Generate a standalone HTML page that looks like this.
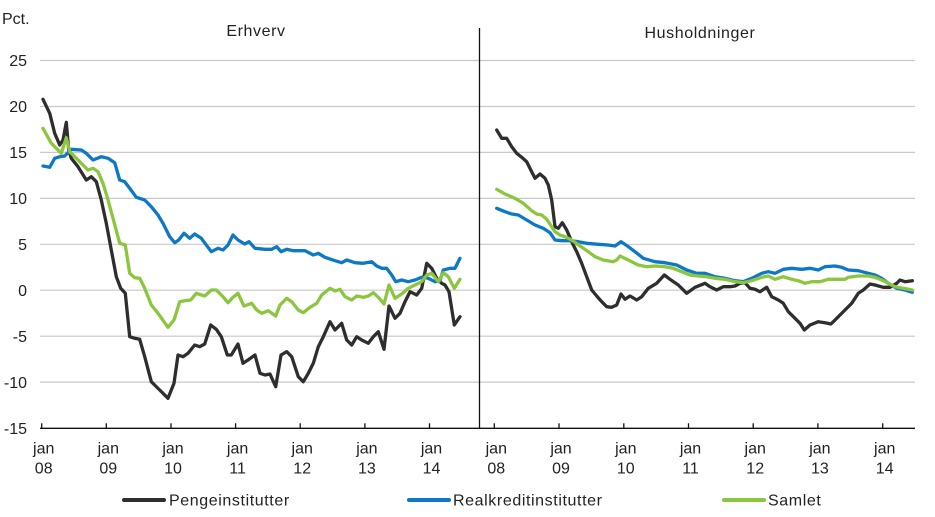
<!DOCTYPE html>
<html>
<head>
<meta charset="utf-8">
<style>
html,body{margin:0;padding:0;background:#fff;}
svg{display:block;}
text{font-family:"Liberation Sans",sans-serif;font-size:16px;fill:#222;}
.sp{letter-spacing:0.6px;}
</style>
</head>
<body>
<svg width="935" height="517" viewBox="0 0 935 517" xmlns="http://www.w3.org/2000/svg">
<rect width="935" height="517" fill="#fff"/>
<!-- gridlines -->
<g stroke="#c9c9c9" stroke-width="1.2">
<line x1="40" y1="60.5" x2="915" y2="60.5"/>
<line x1="40" y1="106.5" x2="915" y2="106.5"/>
<line x1="40" y1="152.4" x2="915" y2="152.4"/>
<line x1="40" y1="198.4" x2="915" y2="198.4"/>
<line x1="40" y1="244.3" x2="915" y2="244.3"/>
<line x1="40" y1="290.2" x2="915" y2="290.2"/>
<line x1="40" y1="336.2" x2="915" y2="336.2"/>
<line x1="40" y1="382.1" x2="915" y2="382.1"/>
</g>
<!-- axis -->
<g stroke="#111" stroke-width="1.3">
<line x1="40" y1="428.3" x2="915" y2="428.3"/>
<line x1="479.5" y1="28" x2="479.5" y2="428.3"/>
<line x1="41.7" y1="423.3" x2="41.7" y2="428.3"/>
<line x1="106.3" y1="423.3" x2="106.3" y2="428.3"/>
<line x1="171" y1="423.3" x2="171" y2="428.3"/>
<line x1="235.6" y1="423.3" x2="235.6" y2="428.3"/>
<line x1="300.2" y1="423.3" x2="300.2" y2="428.3"/>
<line x1="364.9" y1="423.3" x2="364.9" y2="428.3"/>
<line x1="429.5" y1="423.3" x2="429.5" y2="428.3"/>
<line x1="494.3" y1="423.3" x2="494.3" y2="428.3"/>
<line x1="559" y1="423.3" x2="559" y2="428.3"/>
<line x1="623.8" y1="423.3" x2="623.8" y2="428.3"/>
<line x1="688.5" y1="423.3" x2="688.5" y2="428.3"/>
<line x1="753.2" y1="423.3" x2="753.2" y2="428.3"/>
<line x1="817.9" y1="423.3" x2="817.9" y2="428.3"/>
<line x1="882.7" y1="423.3" x2="882.7" y2="428.3"/>
</g>
<!-- y labels -->
<g text-anchor="end">
<text x="27" y="66">25</text>
<text x="27" y="112">20</text>
<text x="27" y="158">15</text>
<text x="27" y="204">10</text>
<text x="27" y="250">5</text>
<text x="27" y="296">0</text>
<text x="27" y="342">-5</text>
<text x="27" y="388">-10</text>
<text x="27" y="434">-15</text>
</g>
<text x="2" y="24">Pct.</text>
<text class="sp" x="256" y="36" text-anchor="middle">Erhverv</text>
<text class="sp" x="700" y="38" text-anchor="middle">Husholdninger</text>
<!-- x labels -->
<g text-anchor="middle">
<text x="43.7" y="453.5">jan</text><text x="43.7" y="473.3">08</text>
<text x="108.3" y="453.5">jan</text><text x="108.3" y="473.3">09</text>
<text x="173" y="453.5">jan</text><text x="173" y="473.3">10</text>
<text x="237.6" y="453.5">jan</text><text x="237.6" y="473.3">11</text>
<text x="302.2" y="453.5">jan</text><text x="302.2" y="473.3">12</text>
<text x="366.9" y="453.5">jan</text><text x="366.9" y="473.3">13</text>
<text x="431.5" y="453.5">jan</text><text x="431.5" y="473.3">14</text>
<text x="496.3" y="453.5">jan</text><text x="496.3" y="473.3">08</text>
<text x="561" y="453.5">jan</text><text x="561" y="473.3">09</text>
<text x="625.8" y="453.5">jan</text><text x="625.8" y="473.3">10</text>
<text x="690.5" y="453.5">jan</text><text x="690.5" y="473.3">11</text>
<text x="755.2" y="453.5">jan</text><text x="755.2" y="473.3">12</text>
<text x="819.9" y="453.5">jan</text><text x="819.9" y="473.3">13</text>
<text x="884.7" y="453.5">jan</text><text x="884.7" y="473.3">14</text>
</g>
<!-- series -->
<g fill="none" stroke-width="3.3" stroke-linejoin="round" stroke-linecap="round">
<polyline stroke="#2e2e2e" points="43,99.3 49.7,113.3 54.7,133.3 59.7,145 63,140 66.3,122.3 68.7,150 71.3,158.3 78,166.7 86.3,180 91.3,176.7 96.3,181.7 101.3,200 106.3,223.3 111.3,250 116.3,276.7 120.7,288.3 125.3,293.3 129.7,336.7 134.7,338.3 139.7,339.3 144.7,356.7 151.3,381.7 159.7,390 168,398.3 174,383.3 178,355 183,356.7 188,353.3 194.7,345 199.7,346.7 204.7,344 210.7,325 216.3,329.3 221.3,336.7 227.3,355 231.3,355 238,344 243,363.3 248,360 255,355 260,373.3 265,375 270,374 275.7,386.7 281,355 286.7,351.7 291.7,356.7 298.3,376.7 303.3,381.7 308.3,373.3 313.3,363.3 318.3,346.7 323.3,336.7 330,321.7 335,330 341.7,323.3 346.7,340 351.7,345 356.7,336.7 361.7,340 368.3,343.3 373.3,336.7 378.3,331.7 384,349.3 389,306 395,318.3 400,313.3 405,301.7 410,291.7 416.7,295 421.7,288.3 426.7,263.3 431.7,268.3 436.7,278.3 441.7,283.3 445,285 449,291.7 454.3,325 460,316.7"/>
<polyline stroke="#2e2e2e" points="496.7,130 501.7,138.3 506.7,138.3 511.7,146.7 516.7,153.3 521.7,157.3 526.7,161.7 531.7,171.7 535,178.3 540,174 545,178.3 548.3,185 551.7,200 555,226.7 558.3,228.3 562.3,222.7 566.7,230 571.7,241.7 576.7,251.7 581.7,263.3 586.7,276.7 591.7,290 596.7,296 601.7,301.7 606.7,306.7 611.7,307.3 616.7,305 621,294 625,299.3 630,296 636.7,300 641.7,296.7 648.3,288.3 656.7,283.3 664.3,275 670,279.3 678.3,285 686.7,293.3 695,287.3 705,283.3 710,286.7 716.7,290 723.3,286.7 730,286.7 735,286 740,283.3 745,282.7 750,288.3 755,289.3 760,291.7 766.7,287.3 771.7,296.7 778.3,300 783.3,303.3 788.3,311.7 795,318.3 800,323.3 804.3,330 810,325 818.3,321.7 825,322.7 831,324 836.7,318.3 845,310 851.7,303.3 858.3,293.3 863.3,290 870,284 875,285 883.3,287.3 890,287.3 896.7,283.3 900,280 905,281.7 912.3,280.7"/>
<polyline stroke="#0d78c6" points="43,166 49.7,167.3 54.7,158.3 59.7,156.7 64.7,156 71.3,149.3 81.3,150 86.3,153.3 93,160 101.3,156.7 108,158.3 114.7,162.7 119.7,180 124.7,181.7 129.7,188.3 136.3,197.3 144.7,200 151.3,206.7 158,215 163,223.3 169.7,236.7 174.7,242.7 178.7,240 184,233.3 189.7,238.3 194.7,234 201.3,238.3 206.3,245 211.3,251.7 218,248.3 223,250 228,245 233,235 238,240 244.7,244 249,241.7 255,248.3 265,249.3 271.7,249.3 276.7,246.7 281,251.7 286.7,249.3 293.3,250.7 305,250.7 313.3,255 318.3,253.3 325,257.3 335,260.7 341.7,262.7 346.7,260 355,262.7 363.3,263.3 371.7,261.7 376.7,266 381.7,268.3 386.7,268.3 391.7,275 395.7,281.7 401.7,280 408.3,281.7 415,280 421.7,277.3 428.3,278.3 435,281.7 440,280.7 443.3,270 450,268.3 455,268.3 460,258.3"/>
<polyline stroke="#0d78c6" points="496.7,208.3 505,211.7 511.7,214 518.3,215 526.7,220 535,225 543.3,228.3 550,232.7 555,240 561.7,240.7 570,240.7 578.3,241.7 586.7,243.3 598.3,244.3 608.3,245 615,246 621,241.7 628.3,246.7 635,251.7 643.3,258.3 655,261.7 665,262.7 676.7,265 686.7,270 696.7,273.3 705,273.3 715,276.7 725,278.3 735,280.7 743.3,281.7 751.7,278.3 761.7,273.3 768.3,271.7 775,273.3 783.3,269.3 791.7,268.3 801.7,269.3 810,268.3 818.3,270 825,266.7 835,266 841.7,267.3 848.3,270 858.3,270.7 868.3,273.3 875,275 881.7,278.3 888.3,283.3 896.7,288.3 905,290 912.3,292.3"/>
<polyline stroke="#8cc63f" points="43,128.3 51.3,143.3 61.3,153.3 66.3,137.7 69.7,151.7 74.7,156.7 79.7,161.7 88,170 93,168.3 98,171.7 103,183.3 108,200 113,218.3 119.7,243.3 125.3,245 129.7,273.3 134.7,277.7 139.7,278.3 144.7,288.3 151.3,305 158,313.3 168,327.3 174,320 179.7,301.7 184.7,300.7 190.7,300 196.3,293.3 204.7,296 211.3,290 216.3,290 223,296.7 228,302.7 233,297.3 238,293.3 244,306 251.7,303.3 256.7,310 261.7,313.3 268.3,310.7 275.7,316 280,305 286.7,298.3 291.7,301.7 298.3,310 303.3,312.7 310,307.3 316.7,303.3 321.7,295 330,288.3 335,291 340,289.3 345,296.7 351.7,300 356.7,296 363.3,297.3 368.3,296 373.3,292.7 378.3,297.3 384,304 389,285 395,298.3 401.7,294 408.3,288.3 415,285 421.7,281.7 426.7,275 431.7,273.3 438.3,281.7 443.3,272.7 448.3,276.7 454.3,288.3 460,279.3"/>
<polyline stroke="#8cc63f" points="496.7,189.3 505,194 515,198.3 523.3,203.3 531.7,210.7 536.7,214 541.7,215 546.7,219.3 551.7,226.7 555,231.7 560,235 565,236.7 571.7,240 580,246 588.3,251.7 595,256.7 603.3,260 613.3,261.7 616.7,260 620,256 628.3,260 638.3,265 646.7,266.7 655,266 665,266.7 673.3,268.3 681.7,271.7 690,275 698.3,276 706.7,276.7 715,278.3 725,279.3 735,281.7 743.3,282.7 751.7,280.7 761.7,277.3 768.3,276 775,279.3 783.3,276.7 791.7,279.3 798.3,280.7 805,283.3 811.7,281.7 820,281.7 828.3,279.3 836.7,279.3 845,279.3 848.3,277.3 858.3,276 868.3,276 875,277.3 881.7,280 888.3,283.3 895,286.7 903.3,288.3 912.3,290"/>
</g>
<!-- legend -->
<g stroke-width="4" stroke-linecap="round">
<line x1="124" y1="500" x2="164" y2="500" stroke="#2e2e2e"/>
<line x1="409" y1="500" x2="449" y2="500" stroke="#0d78c6"/>
<line x1="724" y1="500" x2="764" y2="500" stroke="#8cc63f"/>
</g>
<text class="sp" x="169" y="505.5">Pengeinstitutter</text>
<text class="sp" x="453" y="505.5">Realkreditinstitutter</text>
<text class="sp" x="768" y="505.5">Samlet</text>
</svg>
</body>
</html>
